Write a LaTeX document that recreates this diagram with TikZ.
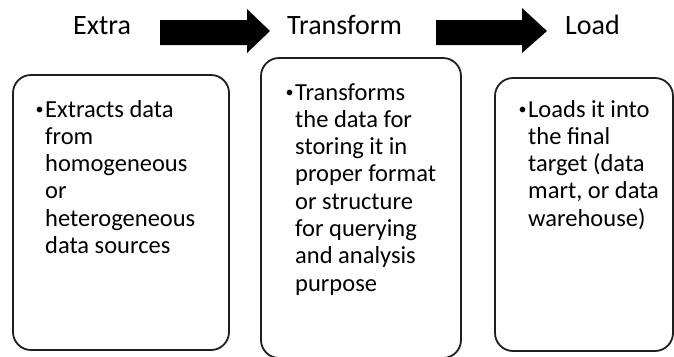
\documentclass[tikz,border=0pt]{standalone}
\usepackage{fontspec}
\setmainfont{Carlito}
\newcommand{\smallbullet}{\llap{\raisebox{2.2bp}{\fontsize{16bp}{16bp}\selectfont •}\hspace{1.5bp}}}
\begin{document}
\begin{tikzpicture}[x=1bp,y=-1bp,
  stage/.style={draw=black!88, line width=1.8bp, rounded corners=18bp},
  title/.style={anchor=base west, inner sep=0pt, font=\fontsize{28bp}{32bp}\selectfont},
  body/.style={anchor=base west, inner sep=0pt, font=\fontsize{24.5bp}{27.3bp}\selectfont},
  blockarrow/.style={fill=black, draw=none}]
  \useasboundingbox (0,0) rectangle (674,356);

  % stage titles
  \node[title] (tE) at (73,34) {Extra};
  \node[title] (tT) at (287,34) {Transform};
  \node[title] (tL) at (565,34) {Load};

  % block arrows between the titles
  \fill[blockarrow] (160,20) -- (247,20) -- (247,9) -- (270,31) -- (247,53) -- (247,45) -- (160,45) -- cycle;
  \fill[blockarrow] (436,20) -- (522,20) -- (522,8) -- (547,31) -- (522,53) -- (522,45) -- (436,45) -- cycle;

  % description boxes
  \draw[stage] (13,75) rectangle (229,350);
  \draw[stage] (261,58) rectangle (461,358);
  \draw[stage] (495,78) rectangle (673,351);

  % descriptions
  \node[body] (d1) at (45,117) {\parbox[t]{180bp}{\raggedright\leavevmode
    \smallbullet Extracts data\\from\\homogeneous\\or\\heterogeneous\\data sources}};
  \node[body] (d2) at (295,100) {\parbox[t]{165bp}{\raggedright\leavevmode
    \smallbullet Transforms\\the data for\\storing it in\\proper format\\or structure\\for querying\\and analysis\\purpose}};
  \node[body] (d3) at (528,117) {\parbox[t]{140bp}{\raggedright\leavevmode
    \smallbullet Loads it into\\the final\\target (data\\mart, or data\\warehouse)}};
\end{tikzpicture}
\end{document}
